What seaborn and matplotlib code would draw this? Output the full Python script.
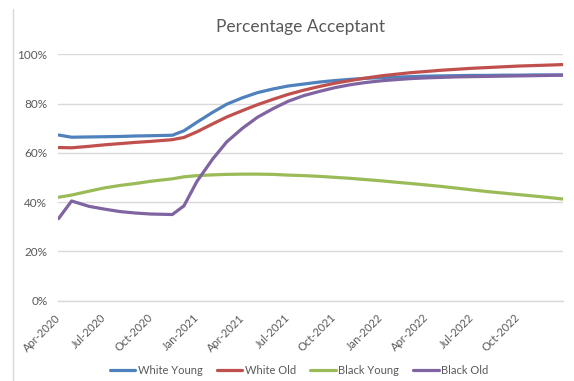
import pandas as pd
import matplotlib
matplotlib.use("Agg")
import matplotlib.pyplot as plt
import matplotlib.dates as mdates
from matplotlib.lines import Line2D
from matplotlib.ticker import PercentFormatter
import seaborn as sns

# Data (share of acceptants, %)
dates = [
    "2020-04-01", "2020-04-27", "2020-06-01", "2020-07-01", "2020-08-01",
    "2020-09-01", "2020-10-01", "2020-11-13", "2020-12-06", "2021-01-01",
    "2021-02-01", "2021-03-01", "2021-04-01", "2021-05-01", "2021-06-01",
    "2021-07-01", "2021-08-01", "2021-09-01", "2021-10-01", "2021-11-01",
    "2021-12-01", "2022-01-01", "2022-02-01", "2022-03-01", "2022-04-01",
    "2022-05-01", "2022-06-01", "2022-07-01", "2022-08-01", "2022-09-01",
    "2022-10-01", "2022-11-01", "2022-12-01", "2022-12-28",
]
white_young = [67.3, 66.4, 66.5, 66.6, 66.7, 66.9, 67.0, 67.2, 69.0, 72.5,
               76.5, 79.8, 82.4, 84.5, 86.0, 87.2, 88.0, 88.8, 89.4, 89.9,
               90.3, 90.6, 90.8, 91.0, 91.2, 91.3, 91.4, 91.5, 91.5, 91.6,
               91.6, 91.7, 91.7, 91.7]
white_old = [62.2, 62.1, 62.7, 63.3, 63.8, 64.3, 64.7, 65.4, 66.3, 68.6,
             71.8, 74.6, 77.2, 79.6, 81.8, 83.8, 85.5, 87.0, 88.3, 89.4,
             90.4, 91.3, 92.0, 92.6, 93.1, 93.6, 94.0, 94.4, 94.7, 95.0,
             95.3, 95.5, 95.7, 95.9]
black_young = [42.0, 42.9, 44.5, 45.8, 46.8, 47.6, 48.5, 49.5, 50.3, 50.8,
               51.1, 51.3, 51.4, 51.4, 51.3, 51.0, 50.8, 50.5, 50.1, 49.7,
               49.2, 48.7, 48.1, 47.6, 47.0, 46.4, 45.7, 45.0, 44.3, 43.7,
               43.1, 42.5, 41.9, 41.3]
black_old = [33.3, 40.5, 38.3, 37.2, 36.2, 35.6, 35.2, 35.0, 38.5, 48.5,
             57.5, 64.5, 70.0, 74.5, 78.0, 81.0, 83.3, 85.0, 86.5, 87.7,
             88.6, 89.3, 89.8, 90.2, 90.5, 90.7, 90.9, 91.0, 91.1, 91.2,
             91.3, 91.4, 91.5, 91.6]

series_names = ["White Young", "White Old", "Black Young", "Black Old"]
colors = ["#4F81BD", "#C0504D", "#9BBB59", "#8064A2"]

df = pd.DataFrame({
    "date": pd.to_datetime(dates),
    "White Young": white_young,
    "White Old": white_old,
    "Black Young": black_young,
    "Black Old": black_old,
})
long_df = df.melt(id_vars="date", var_name="group", value_name="pct")
long_df["pct"] = long_df["pct"] / 100

sns.set_style("white")
plt.rcParams["font.family"] = ["Lato", "DejaVu Sans"]

grey = "#595959"
grid_col = "#D9D9D9"

fig = plt.figure(figsize=(5.74, 3.81), dpi=100)
ax = fig.add_axes([0.1019, 0.2108, 0.8784, 0.6462])

sns.lineplot(data=long_df, x="date", y="pct", hue="group",
             hue_order=series_names, palette=colors, linewidth=2.3,
             ax=ax, legend=True)

ax.set_ylim(0, 1)
ax.set_yticks([0, 0.2, 0.4, 0.6, 0.8, 1.0])
ax.yaxis.set_major_formatter(PercentFormatter(1.0, decimals=0))
ax.set_xlim(pd.Timestamp("2020-04-01"), pd.Timestamp("2022-12-28"))
ax.set_xticks(pd.date_range("2020-04-01", "2022-10-01", freq="3MS"))
ax.xaxis.set_major_formatter(mdates.DateFormatter("%b-%Y"))

ax.grid(axis="y", color=grid_col, linewidth=1.0)
ax.set_axisbelow(True)
for s in ["top", "right", "left"]:
    ax.spines[s].set_visible(False)
ax.spines["bottom"].set_color(grid_col)
ax.spines["bottom"].set_linewidth(1.0)

ax.tick_params(axis="y", length=0, pad=8, labelsize=8.5, labelcolor=grey)
ax.tick_params(axis="x", direction="inout", length=6, width=1.0,
               color=grid_col, labelsize=8, labelcolor=grey, pad=8)
for lab in ax.get_xticklabels():
    lab.set_rotation(45)
    lab.set_ha("right")
    lab.set_va("center")
    lab.set_rotation_mode("anchor")

ax.set_xlabel("")
ax.set_ylabel("")

fig.text(0.523, 0.929, "Percentage Acceptant", ha="center", va="center",
         fontsize=12.5, color=grey)

handles, labels = ax.get_legend_handles_labels()
ax.legend(handles, labels, loc="center", bbox_to_anchor=(0.521, 0.027),
          bbox_transform=fig.transFigure, ncol=4, frameon=False,
          fontsize=8, labelcolor=grey, handlelength=2.3,
          handletextpad=0.2, columnspacing=1.3)

# left border of the chart area
fig.add_artist(Line2D([12.7 / 574, 12.7 / 574], [0, 1 - 9.3 / 381],
                      transform=fig.transFigure, color=grid_col, linewidth=1.0))

fig.savefig("out.png", dpi=100)
